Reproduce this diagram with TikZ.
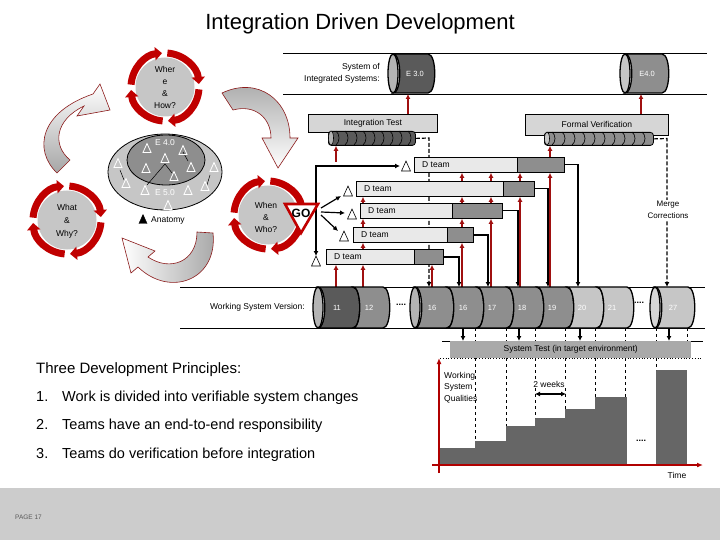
\documentclass[tikz,border=0pt]{standalone}
\usepackage{fontspec}
\setmainfont{Liberation Sans}
\usetikzlibrary{arrows.meta,calc}

\definecolor{ringred}{HTML}{C00000}
\definecolor{linkred}{HTML}{A01010}
\definecolor{shapered}{HTML}{8B1A1A}
\definecolor{dkgray}{HTML}{5A5A5A}
\definecolor{mdgray}{HTML}{8E8E8E}
\definecolor{ltgray}{HTML}{C6C6C6}
\definecolor{endgray}{HTML}{B4B4B4}
\definecolor{boxgray}{HTML}{D6D6D6}
\definecolor{barlight}{HTML}{E9E9E9}
\definecolor{stepgray}{HTML}{666666}
\definecolor{testgray}{HTML}{A9A9A9}
\definecolor{footgray}{HTML}{CCCCCC}
\definecolor{axisred}{HTML}{B00000}

\tikzset{
  lbl/.style={font=\fontsize{8.5}{11}\selectfont, inner sep=0pt},
  cyctext/.style={align=center, font=\fontsize{8.5}{12}\selectfont, inner sep=0pt},
  dbar/.style={draw, line width=0.8pt, fill=barlight, minimum height=15, inner sep=0pt, anchor=north west},
  testbox/.style={draw, line width=0.8pt, fill=boxgray, inner sep=0pt, anchor=north west, font=\fontsize{8.5}{10}\selectfont},
  chainbar/.style={draw, line width=0.8pt, rounded corners=3pt, minimum height=14, inner sep=0pt, anchor=north west},
  redup/.style={linkred, line width=1.4pt, -{Latex[length=5pt,width=5pt]}},
  blkdown/.style={line width=1.2pt, -{Latex[length=5pt,width=5pt]}},
  merge/.style={line width=1.2pt, dash pattern=on 4pt off 2pt, -{Latex[length=5pt,width=5pt]}},
  bigarrow/.style={draw=shapered, line width=0.6pt},
  ringarc/.style={ringred, line width=7pt, -{Triangle[length=7pt,width=13pt]}},
  cylline/.style={line width=1.3pt},
  mtri/.pic={\path[pic actions] (-4.5,-5) -- (4.5,-5) -- (0,5) -- cycle;},
}

% gray disk with four red arrows round it
\newcommand{\cycring}[2]{%
  \fill[ltgray] (#1,#2) circle (29.5);
  \foreach \a in {0,90,180,270}
    \draw[ringarc] ($(#1,#2)+(\a+86:34)$) arc[start angle=\a+86, end angle=\a+5, radius=34];
}
% one piece of a lying cylinder
\newcommand{\cylseg}[5]{%
  \filldraw[fill=#5, cylline] (#1,#3) -- (#2,#3) .. controls (#2+9,#3) and (#2+9,#4) .. (#2,#4)
    -- (#1,#4) .. controls (#1+9,#4) and (#1+9,#3) .. (#1,#3) -- cycle;
}
\newcommand{\cylcap}[4]{%
  \filldraw[fill=#4, cylline] (#1,#2) ellipse [x radius=5, y radius=#3];
}
% team bar: name, x, y, width, start of dark part
\newcommand{\dteam}[5]{%
  \node[dbar, minimum width=#4] (#1) at (#2,#3) {};
  \filldraw[fill=mdgray, line width=0.8pt] (#5,#3) rectangle (#1.south east);
  \node[lbl, anchor=west] (#1t) at ($(#1.west)+(8,0)$) {D team};
}

\begin{document}
\begin{tikzpicture}[x=1pt,y=1pt,>=Latex]
\useasboundingbox (0,0) rectangle (720,-540);

\node[font=\fontsize{22}{26}\selectfont, inner sep=0pt] (title) at (360,-24) {Integration Driven Development};

% footer
\fill[footgray] (0,-488) rectangle (720,-540);
\node[font=\fontsize{6.5}{8}\selectfont, text=black!65, anchor=west, inner sep=0pt] (page) at (15,-517) {PAGE 17};

% curved arrows between the three questions
\path[bigarrow, top color=white, bottom color=black!35]
  (57,-173) .. controls (33,-150) and (40,-112) .. (93,-94)
  -- (100,-84) -- (110,-110) -- (77,-116) -- (84,-106)
  .. controls (55,-120) and (52,-145) .. (70,-160) -- cycle;
\path[bigarrow, top color=black!35, bottom color=white]
  (222,-93) .. controls (258,-76) and (290,-100) .. (290,-138)
  -- (298,-138) -- (278,-168) -- (262,-138) -- (271,-138)
  .. controls (271,-118) and (255,-104) .. (233,-110) -- cycle;
\path[bigarrow, left color=white, right color=black!35]
  (213,-233) .. controls (218,-280) and (170,-298) .. (138,-267)
  -- (131,-273) -- (122,-238) -- (155,-251) -- (148,-257)
  .. controls (170,-272) and (197,-262) .. (197,-232) -- cycle;

\cycring{165}{-87}
\node[cyctext] (where) at (165,-87) {Wher\\e\\\&\\How?};
\cycring{67}{-220}
\node[cyctext, font=\fontsize{8.5}{13}\selectfont] (what) at (67,-221) {What\\\&\\Why?};
\cycring{268}{-215}
\node[cyctext] (when) at (266,-217) {When\\\&\\Who?};

% anatomy
\draw[line width=0.8pt, fill=ltgray] (165,-172) ellipse [x radius=57, y radius=38];
\draw[line width=0.8pt, fill=mdgray] (166,-160) ellipse [x radius=39, y radius=25];
\node[lbl, text=white] (e40in) at (165,-143) {E 4.0};
\node[lbl, text=white] (e50in) at (165,-193) {E 5.0};
\draw[line width=0.5pt] (183,-152) -- (188,-161) (165,-164) -- (147,-185) (165,-164) -- (172,-173)
  (120,-170) -- (124,-180) (210,-175) -- (207,-185);
\foreach \px/\py in {147/-148,183/-150,165/-158,146/-168,191/-167,174/-176,118/-163,126/-183,
  145/-190,168/-205,188/-190,205/-186,214/-167}
  \pic[draw=white, line width=0.8pt, scale=0.9] at (\px,\py) {mtri};
\pic[draw=black, fill=black, scale=0.9] at (143,-219) {mtri};
\node[lbl, anchor=west] (anat) at (151,-220) {Anatomy};

% system of integrated systems
\draw[line width=0.8pt] (283,-53) -- (707,-53);
\draw[line width=0.8pt] (283,-94) -- (707,-94);
\node[lbl, align=right, anchor=east, font=\fontsize{8.5}{12}\selectfont] (sos) at (380,-73) {System of\\Integrated Systems:};
\cylseg{393}{428}{-54}{-93}{dkgray}
\cylcap{393}{-73.5}{19.5}{endgray}
\node[lbl, text=white, font=\fontsize{7.5}{9}\selectfont] (e30) at (415,-74) {E 3.0};
\cylseg{625}{662}{-54}{-93}{mdgray}
\cylcap{625}{-73.5}{19.5}{ltgray}
\node[lbl, text=white, font=\fontsize{7.5}{9}\selectfont] (e40) at (647,-74) {E4.0};
\coordinate (e30foot) at (408,-94);
\coordinate (e40foot) at (641,-94);

% test boxes with their queues
\node[testbox, minimum width=129, minimum height=18] (itest) at (308,-114) {Integration Test};
\node[testbox, minimum width=143, minimum height=21] (fver) at (525,-114) {Formal Verification};
\node[chainbar, fill=dkgray, minimum width=87] (ibar) at (328,-131) {};
\foreach \s in {336,345,...,408}
  \draw[line width=0.6pt] (\s,-131) .. controls (\s+4,-134) and (\s+4,-142) .. (\s,-145);
\draw[fill=endgray, line width=0.6pt] (331,-138) ellipse [x radius=2.5, y radius=7];
\node[chainbar, fill=mdgray, minimum width=109, minimum height=13] (fbar) at (544,-132) {};
\foreach \s in {552,562,...,642}
  \draw[line width=0.6pt] (\s,-132) .. controls (\s+4,-135) and (\s+4,-142) .. (\s,-145);
\draw[fill=ltgray, line width=0.6pt] (547,-138.5) ellipse [x radius=2.5, y radius=6.5];
\draw[redup] (itest.north -| e30foot) -- (e30foot);
\draw[redup] (fver.north -| e40foot) -- (e40foot);
\draw[merge] (ibar.east) -- (429,-138) -- (429,-287);
\draw[merge] (fbar.east) -- (667,-138.5) -- (667,-287);
\node[lbl, fill=white, align=center, inner sep=1pt, font=\fontsize{8}{12}\selectfont] (mc) at (668,-210) {Merge\\Corrections};

% team bars
\dteam{b1}{414}{-157}{150}{517}
\dteam{b2}{356}{-181}{178}{503}
\dteam{b3}{360}{-203}{142}{452}
\dteam{b4}{353}{-227}{120}{447}
\dteam{b5}{326}{-249}{117}{414}

\draw[blkdown] (b1.east) -| (578,-287);
\draw[blkdown] (b2.east) -| (548,-287);
\draw[blkdown] (b3.east) -| (518,-287);
\draw[blkdown] (b4.east) -| (488,-287);
\draw[blkdown] (b5.east) -| (459,-287);

\foreach \x in {336,363,432} \draw[redup] (\x,-287) -- (\x,0 |- b5.south);
\draw[redup] (462,-287) -- (462,0 |- b4.south);
\draw[redup] (491,-287) -- (491,0 |- b3.south);
\draw[redup] (520,-287) -- (520,0 |- b2.south);
\draw[redup] (550,-287) -- (550,0 |- b1.south);
\draw[redup] (363,0 |- b5.north) -- (363,0 |- b4.south);
\foreach \x in {363,462} \draw[redup] (\x,0 |- b4.north) -- (\x,0 |- b3.south);
\foreach \x in {363,462,491} \draw[redup] (\x,0 |- b3.north) -- (\x,0 |- b2.south);
\foreach \x in {462,491,520} \draw[redup] (\x,0 |- b2.north) -- (\x,0 |- b1.south);
\draw[redup] (550,0 |- b1.north) -- (550,0 |- fbar.south);
\draw[redup] (336,-162) -- (336,0 |- ibar.south);

% go and milestones
\coordinate (gosplit) at (316,-166);
\coordinate (gotip) at (321,-211);
\draw[blkdown] (316,-200) -- (gosplit) -- (400,-166);
\draw[blkdown] (316,-200) -- (316,-256);
\draw[blkdown] ($(gotip)+(0,3)$) -- (341,-196);
\draw[blkdown] ($(gotip)+(0,-1)$) -- (345,-213);
\draw[blkdown] ($(gotip)+(0,-4)$) -- (338,-231);
\foreach \px/\py in {406/-166,348/-191,352/-214,344/-236,316/-261}
  \pic[draw=black, fill=white, line width=0.6pt] at (\px,\py) {mtri};
\draw[ringred, line width=2.6pt, fill=white, line join=miter] (285,-204) -- (318,-204) -- (301,-233) -- cycle;
\node[font=\bfseries\fontsize{12}{14}\selectfont, inner sep=0pt] (go) at (301,-213) {GO};

% working system versions
\draw[line width=0.8pt] (180,-287) -- (705,-287);
\draw[line width=0.8pt] (180,-328) -- (705,-328);
\node[lbl, anchor=east] (wsv) at (305,-307) {Working System Version:};
\cylseg{318}{353}{-287}{-328}{dkgray}
\cylseg{353}{383}{-287}{-328}{mdgray}
\cylcap{318}{-307.5}{20.5}{endgray}
\foreach \a/\b/\c in {415/447/mdgray,447/477/mdgray,477/507/mdgray,507/537/mdgray,537/567/mdgray,567/597/ltgray,597/627/ltgray}
  \cylseg{\a}{\b}{-287}{-328}{\c};
\cylcap{415}{-307.5}{20.5}{endgray}
\cylseg{655}{688}{-287}{-328}{ltgray}
\cylcap{655}{-307.5}{20.5}{boxgray}
\foreach \x/\t [count=\i] in {337/11,369/12,432/16,463/16,492/17,522/18,552/19,582/20,612/21,673/27}
  \node[lbl, text=white, font=\fontsize{7.5}{9}\selectfont] (ver\i) at (\x,-308) {\t};
\node[font=\bfseries\fontsize{9}{10}\selectfont, inner sep=0pt] (dots1) at (401,-305) {....};
\node[font=\bfseries\fontsize{9}{10}\selectfont, inner sep=0pt] (dots2) at (639,-303) {....};

% system test
\foreach \x in {463,519,580,669} \draw[blkdown] (\x,-328) -- (\x,-341);
\foreach \x in {475,506,535,565,595,625,656,687} \draw[dashed, line width=0.6pt] (\x,-328) -- (\x,-341);
\draw[line width=0.8pt] (442,-341) -- (703,-341);
\draw[dotted, line width=0.8pt] (440,-358) -- (703,-358);
\node[fill=testgray, minimum width=241, minimum height=17, inner sep=0pt, anchor=north west,
  font=\fontsize{8.5}{10}\selectfont] (stest) at (450,-341) {System Test (in target environment)};

% growth of qualities
\foreach \a/\b/\h in {440/475/448,475/506/441,506/535/426,535/565/418,565/595/409,595/627/397,656/687/370}
  \fill[stepgray] (\a,-465) rectangle (\b,-\h);
\foreach \x/\t in {475/441,506/426,535/418,565/409,595/397,625/397,656/370}
  \draw[dashed, line width=0.6pt] (\x,-358) -- (\x,-\t);
\draw[axisred, line width=1.5pt, -{Latex[length=6pt,width=5pt]}] (439,-473) -- (439,-358);
\draw[axisred, line width=1.5pt, -{Latex[length=6pt,width=5pt]}] (432,-465) -- (703,-465);
\node[lbl, anchor=north west, align=left, font=\fontsize{8.5}{11.5}\selectfont] (wsq) at (444,-372) {Working\\System\\Qualities};
\node[lbl, fill=white, inner sep=1pt] (twoweeks) at (549,-384) {2 weeks};
\draw[line width=1.5pt, {Latex[length=5pt,width=5pt]}-{Latex[length=5pt,width=5pt]}] (535,-394) -- (566,-394);
\node[font=\bfseries\fontsize{9}{10}\selectfont, inner sep=0pt] (dots3) at (641,-441) {....};
\node[lbl] (time) at (677,-475) {Time};

% principles
\node[anchor=west, inner sep=0pt, font=\fontsize{15}{18}\selectfont] (tdp) at (36,-370) {Three Development Principles:};
\node[anchor=west, inner sep=0pt, font=\fontsize{14.5}{17}\selectfont] (p1) at (36,-398) {\makebox[26pt][l]{1.}Work is divided into verifiable system changes};
\node[anchor=west, inner sep=0pt, font=\fontsize{14.5}{17}\selectfont] (p2) at (36,-426) {\makebox[26pt][l]{2.}Teams have an end-to-end responsibility};
\node[anchor=west, inner sep=0pt, font=\fontsize{14.5}{17}\selectfont] (p3) at (36,-455) {\makebox[26pt][l]{3.}Teams do verification before integration};
\end{tikzpicture}
\end{document}
